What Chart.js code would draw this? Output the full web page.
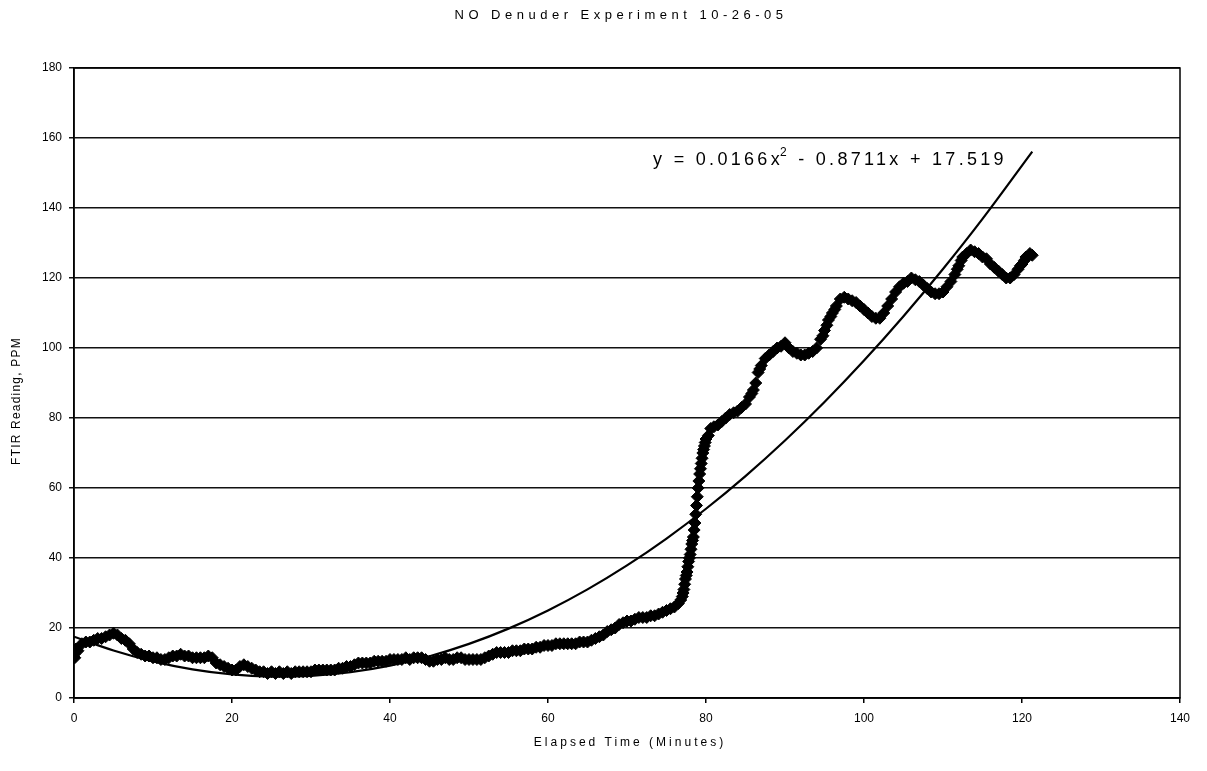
<!DOCTYPE html>
<html lang="en">
<head>
<meta charset="UTF-8">
<title>NO Denuder Experiment 10-26-05</title>
<script src="https://cdn.jsdelivr.net/npm/chart.js"></script>
<style>
    html, body { margin: 0; padding: 0; background: #fff; }
    .chart-container { width: 1207px; height: 771px; }
</style>
</head>
<body>
<div class="chart-container"><canvas id="chart"></canvas></div>
<script>
// FTIR readings
const elapsedMinutes = [
    0, 0.1, 0.25, 0.5, 1, 1.5, 2, 2.5, 3, 3.5, 4, 4.5, 5, 5.5, 6, 6.5, 7, 7.5, 8, 8.5, 9, 9.5,
    10, 10.5, 11, 11.5, 12, 12.5, 13, 13.5, 14, 14.5, 15, 15.5, 16, 16.5, 17, 17.5, 18, 18.5, 19, 19.5,
    20, 20.5, 21, 21.5, 22, 22.5, 23, 23.5, 24, 24.5, 25, 25.5, 26, 26.5, 27, 27.5, 28, 28.5, 29, 29.5,
    30, 30.5, 31, 31.5, 32, 32.5, 33, 33.5, 34, 34.5, 35, 35.5, 36, 36.5, 37, 37.5, 38, 38.5, 39, 39.5,
    40, 40.5, 41, 41.5, 42, 42.5, 43, 43.5, 44, 44.5, 45, 45.5, 46, 46.5, 47, 47.5, 48, 48.5, 49, 49.5,
    50, 50.5, 51, 51.5, 52, 52.5, 53, 53.5, 54, 54.5, 55, 55.5, 56, 56.5, 57, 57.5, 58, 58.5, 59, 59.5,
    60, 60.5, 61, 61.5, 62, 62.5, 63, 63.5, 64, 64.5, 65, 65.5, 66, 66.5, 67, 67.5, 68, 68.5, 69, 69.5,
    70, 70.5, 71, 71.5, 72, 72.5, 73, 73.5, 74, 74.5, 75, 75.5, 76, 76.5, 76.8,
    77, 77.1, 77.2, 77.3, 77.4, 77.5, 77.6, 77.7, 77.8, 77.9, 78, 78.1, 78.2, 78.3, 78.4, 78.5, 78.6, 78.7, 78.8, 78.9,
    79, 79.1, 79.2, 79.3, 79.4, 79.5, 79.6, 79.7, 79.8, 79.9,
    80, 80.3, 80.6, 81, 81.5, 82, 82.5, 83, 83.5, 84, 84.5, 85, 85.5, 85.8, 86, 86.3, 86.6, 86.8, 87, 87.5, 88, 88.5, 89, 89.5,
    90, 90.5, 91, 91.5, 92, 92.5, 93, 93.5, 94, 94.5, 94.8, 95, 95.3, 95.5, 95.8, 96, 96.3, 96.5, 97, 97.5, 98, 98.5, 99, 99.5,
    100, 100.5, 101, 101.5, 102, 102.5, 103, 103.5, 104, 104.5, 105, 105.5, 106, 106.5, 107, 107.5, 108, 108.5, 109, 109.5,
    110, 110.5, 111, 111.5, 111.8, 112, 112.3, 112.5, 113, 113.5, 114, 114.5, 115, 115.5, 116, 116.5, 117, 117.5, 118, 118.5, 119, 119.5,
    119.8, 120, 120.3, 120.5, 121, 121.3
];
const ftirPpm = [
    12.5, 11.5, 14, 13.5, 15.5, 16, 16, 16.5, 17, 17, 17.5, 18, 18.5, 18, 17, 16.5, 15.5, 14, 13, 12.5, 12, 12,
    11.5, 11.5, 11, 11, 11.5, 12, 12, 12.5, 12, 12, 11.5, 11.5, 11.5, 11.5, 12, 11.5, 10, 9.5, 9, 8.5,
    8, 8, 9, 9.5, 9, 8.5, 8, 7.5, 7.5, 7, 7.5, 7, 7.5, 7, 7.5, 7, 7.5, 7.5, 7.5, 7.5,
    7.5, 8, 8, 8, 8, 8, 8, 8.5, 8.5, 9, 9, 9.5, 10, 10, 10, 10, 10.5, 10.5, 10.5, 10.5,
    11, 11, 11, 11, 11.5, 11, 11.5, 11.5, 11.5, 11, 10.5, 10.5, 11, 11, 11.5, 11, 11, 11.5, 11.5, 11,
    11, 11, 11, 11, 11.5, 12, 12.5, 13, 13, 13, 13, 13.5, 13.5, 13.5, 14, 14, 14, 14.5, 14.5, 15,
    15, 15, 15.5, 15.5, 15.5, 15.5, 15.5, 15.5, 16, 16, 16, 16.5, 17, 17.5, 18, 19, 19.5, 20, 21, 21.5,
    22, 22, 22.5, 23, 23, 23, 23.5, 23.5, 24, 24.5, 25, 25.5, 26, 27, 28,
    29, 30, 31, 32.5, 34, 35, 36, 37.5, 39, 40, 41, 42.5, 44, 45, 46, 48, 50, 52.5, 55, 57.5,
    60, 62, 64, 65.5, 67, 68.5, 70, 71, 72, 73,
    74, 75, 77, 77.5, 78, 79, 80, 81, 81.5, 82, 83, 84, 86, 87, 88, 90, 93, 94, 95, 97, 98, 99, 100, 100.5,
    101.5, 100, 99, 98.5, 98, 98, 98.5, 99, 100, 102.5, 103.5, 105, 106.5, 108, 109, 110, 111, 112, 114, 114.5, 114, 113.5, 113, 112,
    111, 110, 109, 108.5, 108.5, 110, 112, 114, 116, 117.5, 118.5, 119, 120, 119.5, 119, 118, 117, 116, 115.5, 115.5,
    116, 117.5, 119, 121, 122.5, 123.5, 125, 126, 127, 128, 127.5, 127, 126, 125.5, 124, 123, 122, 121, 120, 120, 121, 122.5,
    123.5, 124, 125, 126, 127, 126.5
];

// polynomial trendline as drawn on the chart
const trendMinutes = [0, 5, 10, 15, 20, 25, 30, 35, 40, 45, 50, 55, 60, 65, 70, 75, 80, 85, 90, 95, 100, 105, 110, 115, 121.3];
const trendPpm = [17.52, 13.58, 10.47, 8.19, 6.74, 6.12, 6.33, 7.37, 9.24, 11.93, 15.46, 19.82, 25.01, 31.03, 37.88,
    45.56, 54.07, 63.41, 73.58, 84.58, 96.41, 109.07, 122.56, 136.88, 156.11];

const chartTitle = "NO Denuder Experiment 10-26-05";
const xTitle = "Elapsed Time (Minutes)";
const yTitle = "FTIR Reading, PPM";
const equationMain = "y = 0.0166x";
const equationSup = "2";
const equationRest = " - 0.8711x + 17.519";

const readings = elapsedMinutes.map((t, i) => ({ x: t, y: ftirPpm[i] }));
const trend = trendMinutes.map((t, i) => ({ x: t, y: trendPpm[i] }));

const FONT = '"Liberation Sans", Arial, sans-serif';

// titles, equation label and plot border
const textPlugin = {
    id: 'texts',
    afterDraw(chart) {
        const ctx = chart.ctx;
        const area = chart.chartArea;
        const xs = chart.scales.x, ys = chart.scales.y;
        ctx.save();
        ctx.strokeStyle = '#000';
        ctx.lineWidth = 1.5;
        ctx.strokeRect(area.left, area.top, area.right - area.left, area.bottom - area.top);

        ctx.fillStyle = '#000';
        ctx.textAlign = 'center';
        ctx.textBaseline = 'middle';
        ctx.font = '13px ' + FONT;
        ctx.letterSpacing = '4.5px';
        ctx.fillText(chartTitle, 621, 15);

        ctx.font = '12px ' + FONT;
        ctx.letterSpacing = '3px';
        ctx.fillText(xTitle, 630, 743);

        ctx.save();
        ctx.translate(17, 401);
        ctx.rotate(-Math.PI / 2);
        ctx.letterSpacing = '1.2px';
        ctx.fillText(yTitle, 0, 0);
        ctx.restore();

        // trendline equation
        ctx.letterSpacing = '3.3px';
        ctx.textAlign = 'left';
        ctx.textBaseline = 'alphabetic';
        ctx.font = '18px ' + FONT;
        let px = xs.getPixelForValue(73.3);
        const base = ys.getPixelForValue(152.3);
        ctx.fillText(equationMain, px, base);
        px += ctx.measureText(equationMain).width - 3;
        ctx.font = '12px ' + FONT;
        ctx.fillText(equationSup, px, base - 9);
        px += ctx.measureText(equationSup).width;
        ctx.font = '18px ' + FONT;
        ctx.fillText(equationRest, px, base);
        ctx.restore();
    }
};

new Chart(document.getElementById('chart'), {
    type: 'scatter',
    data: {
        datasets: [
            {
                label: 'Trendline',
                data: trend,
                showLine: true,
                borderColor: '#000',
                borderWidth: 2.2,
                pointRadius: 0,
                tension: 0.4,
                order: 0
            },
            {
                label: 'FTIR',
                data: readings,
                pointStyle: 'rectRot',
                pointRadius: 6,
                backgroundColor: '#000',
                borderColor: '#000',
                borderWidth: 1,
                order: 1
            }
        ]
    },
    plugins: [textPlugin],
    options: {
        responsive: true,
        maintainAspectRatio: false,
        animation: false,
        layout: { padding: { top: 68, right: 27, bottom: 0, left: 0 } },
        plugins: {
            legend: { display: false },
            tooltip: { enabled: false },
            title: { display: false }
        },
        scales: {
            x: {
                type: 'linear',
                min: 0,
                max: 140,
                afterFit: (scale) => { scale.height = 73; },
                ticks: {
                    stepSize: 20,
                    color: '#000',
                    padding: 8,
                    maxRotation: 0,
                    font: { family: FONT, size: 12 }
                },
                grid: { drawOnChartArea: false, drawTicks: true, tickLength: 5, color: '#000', lineWidth: 1.5 },
                border: { display: true, color: '#000', width: 1.5 }
            },
            y: {
                type: 'linear',
                min: 0,
                max: 180,
                afterFit: (scale) => { scale.width = 74; },
                ticks: {
                    stepSize: 20,
                    color: '#000',
                    padding: 7,
                    font: { family: FONT, size: 12 }
                },
                grid: { color: '#111', lineWidth: 1.5, tickLength: 5 },
                border: { display: true, color: '#000', width: 1.5 }
            }
        }
    }
});
</script>
</body>
</html>
